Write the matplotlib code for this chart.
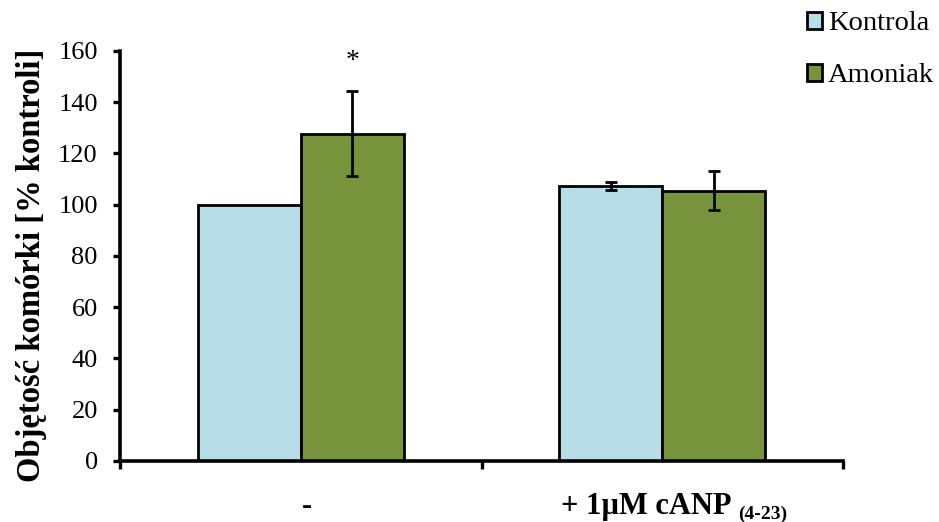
import matplotlib
matplotlib.use("Agg")
import matplotlib.pyplot as plt
from matplotlib.patches import Patch
from matplotlib.transforms import ScaledTranslation
import numpy as np

categories = ["-", "+ 1µM cANP"]
subscript = "(4-23)"
series_names = ["Kontrola", "Amoniak"]
kontrola = [100.0, 107.3]
kontrola_err = [0.0, 1.5]
amoniak = [127.8, 105.5]
amoniak_err = [16.7, 7.5]
yticks = [0, 20, 40, 60, 80, 100, 120, 140, 160]
ylabel = "Objętość komórki [% kontroli]"
star = "*"

plt.rcParams['font.family'] = ['Liberation Serif', 'DejaVu Serif']

fig = plt.figure(figsize=(9.39, 5.22), dpi=100)
ax = fig.add_axes([0.1278, 0.1169, 0.77, 0.7854])

x = np.arange(len(categories))
w = 0.285
colors = ["#B7DDE8", "#77933C"]
ax.bar(x - w/2, kontrola, w, color=colors[0], edgecolor="black", linewidth=2.0, zorder=2)
ax.bar(x + w/2, amoniak, w, color=colors[1], edgecolor="black", linewidth=2.0, zorder=2)
ax.errorbar(x[1:] - w/2, kontrola[1:], yerr=kontrola_err[1:], fmt='none', ecolor='black',
            elinewidth=2.0, capsize=4.5, capthick=2.0, zorder=3)
ax.errorbar(x + w/2, amoniak, yerr=amoniak_err, fmt='none', ecolor='black',
            elinewidth=2.0, capsize=4.5, capthick=2.0, zorder=3)

ax.text(x[0] + w/2, 156, star, ha='center', va='center', fontsize=20)

ax.set_xlim(-0.5, len(categories) - 0.5)
ax.set_ylim(0, 160)
ax.set_yticks(yticks)
ax.set_yticklabels([str(t) for t in yticks], fontsize=19)
ax.set_ylabel(ylabel, fontsize=23.5, fontweight='bold')
ax.yaxis.set_label_coords(-0.101, 0.476)

for s in ['top', 'right']:
    ax.spines[s].set_visible(False)
for s in ['left', 'bottom']:
    ax.spines[s].set_linewidth(2.6)

ax.tick_params(axis='y', direction='out', length=5, width=2.4, pad=11)
ax.set_xticks(x)
ax.set_xticklabels(categories, fontsize=22, fontweight='bold')
ax.tick_params(axis='x', which='major', length=0, pad=22)
ax.set_xticks(np.arange(-0.5, len(categories), 1.0), minor=True)
ax.tick_params(axis='x', which='minor', direction='out', length=6, width=2.4)

labels = ax.get_xticklabels()
labels[0].set_transform(labels[0].get_transform() + ScaledTranslation(6/100, 0, fig.dpi_scale_trans))
labels[1].set_transform(labels[1].get_transform() + ScaledTranslation(-16/100, 0, fig.dpi_scale_trans))
ax.annotate(subscript, xy=(1, 0), xycoords=labels[1], xytext=(5, 1.0), textcoords='offset points',
            ha='left', va='baseline', fontsize=14, fontweight='bold')

handles = [Patch(facecolor=colors[0], edgecolor='black', linewidth=2.0),
           Patch(facecolor=colors[1], edgecolor='black', linewidth=2.0)]
fig.legend(handles, series_names, loc='upper left', bbox_to_anchor=(0.847, 1.0),
           frameon=False, fontsize=20.5, handlelength=0.55, handleheight=0.55,
           handletextpad=0.2, labelspacing=0.95, borderaxespad=0)

fig.savefig("out.png", dpi=100)
